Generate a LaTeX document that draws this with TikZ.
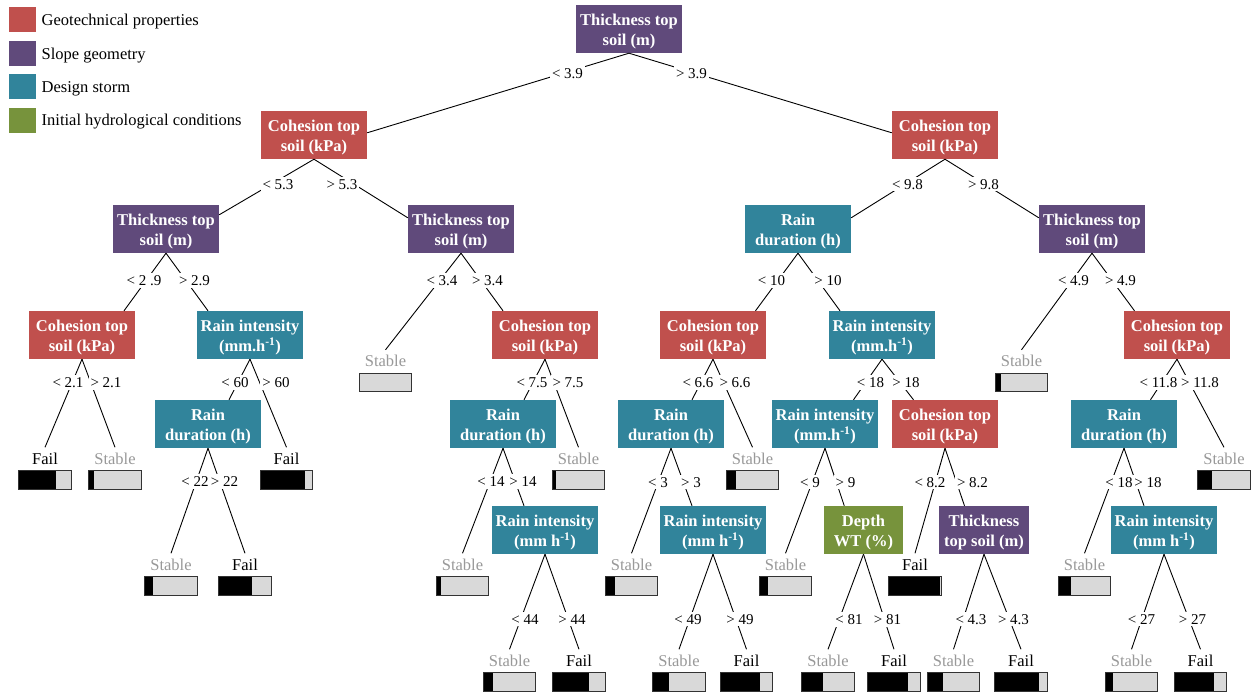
\documentclass[tikz,border=0pt]{standalone}
\usepackage{fontspec}
\setmainfont{Liberation Serif}
\usetikzlibrary{calc}
\definecolor{geo}{HTML}{C0504D}
\definecolor{slope}{HTML}{604A7B}
\definecolor{storm}{HTML}{31849B}
\definecolor{hydro}{HTML}{77933C}
\definecolor{barfill}{HTML}{D9D9D9}
\definecolor{stablegray}{HTML}{999999}
\tikzset{
  box/.style={rectangle, inner sep=0pt, minimum width=106pt, minimum height=48pt, align=center, text=white, font=\fontsize{16.5}{20}\selectfont\bfseries},
  geobox/.style={box, fill=geo},
  slopebox/.style={box, fill=slope},
  stormbox/.style={box, fill=storm},
  hydrobox/.style={box, fill=hydro},
  lbl/.style={fill=white, inner xsep=2pt, inner ysep=2pt, text height=10.5pt, text depth=0pt, font=\fontsize{15}{18}\selectfont},
  leaftxt/.style={inner sep=0pt, minimum height=22pt, text height=11.5pt, text depth=0pt, font=\fontsize{16.5}{20}\selectfont},
  stabletxt/.style={leaftxt, text=stablegray},
  failtxt/.style={leaftxt, text=black},
  barbox/.style={rectangle, inner sep=0pt, minimum width=52pt, minimum height=18pt, fill=barfill},
  barline/.style={draw=black!80, line width=1.2pt},
  conn/.style={line width=0.9pt, draw=black},
  legsq/.style={rectangle, inner sep=0pt, minimum width=27pt, minimum height=25pt},
  legtxt/.style={anchor=base west, inner sep=0pt, font=\fontsize{16.5}{20}\selectfont},
}
% strut that lowers the two-line box text a little
\newcommand\bx{\rule{0pt}{16.5pt}}
% name, x, y, text style, text, black width
\newcommand\mkleaf[6]{%
  \node[#4] (#1) at (#2,#3) {#5};
  \node[barbox] (#1b) at (#2,#3+21.5) {};
  \fill[black] (#1b.north west) rectangle ([xshift=#6pt]#1b.south west);
  \draw[barline] (#1b.north west) rectangle (#1b.south east);
}
% edge from parent to a box child, ending on its top at the x midway
\newcommand\cedge[2]{%
  \draw[conn] let \p1=(#1.south), \p2=(#2.north) in (\p1) -- ({(\x1+\x2)/2},\y2);
}
% edge from parent to a leaf
\newcommand\ledge[2]{%
  \draw[conn] (#1.south) -- (#2.north);
}
\begin{document}
\begin{tikzpicture}[x=1pt,y=-1pt]
\useasboundingbox (0,0) rectangle (1251,692);
\fill[white] (0,0) rectangle (1251,692);

% legend
\node[legsq, fill=geo] (lg1) at (22.5,19.5) {};
\node[legtxt] (lt1) at (41.5,26) {Geotechnical properties};
\node[legsq, fill=slope] (lg2) at (22.5,53.5) {};
\node[legtxt] (lt2) at (41.5,59.5) {Slope geometry};
\node[legsq, fill=storm] (lg3) at (22.5,86.5) {};
\node[legtxt] (lt3) at (41.5,93) {Design storm};
\node[legsq, fill=hydro] (lg4) at (22.5,120.5) {};
\node[legtxt] (lt4) at (41.5,126) {Initial hydrological conditions};

% decision nodes
\node[slopebox] (root) at (629,29) {\bx Thickness top\\soil (m)};
\node[geobox] (L1) at (314,135) {\bx Cohesion top\\soil (kPa)};
\node[geobox] (R1) at (945,135) {\bx Cohesion top\\soil (kPa)};
\node[slopebox] (A) at (166,229) {\bx Thickness top\\soil (m)};
\node[slopebox] (B) at (461,229) {\bx Thickness top\\soil (m)};
\node[stormbox] (C) at (798,229) {\bx Rain\\duration (h)};
\node[slopebox] (D) at (1092,229) {\bx Thickness top\\soil (m)};
\node[geobox] (A1) at (82,335) {\bx Cohesion top\\soil (kPa)};
\node[stormbox] (A2) at (250,335) {\bx Rain intensity\\(mm.h\textsuperscript{-1})};
\node[geobox] (B2) at (545,335) {\bx Cohesion top\\soil (kPa)};
\node[geobox] (C1) at (713,335) {\bx Cohesion top\\soil (kPa)};
\node[stormbox] (C2) at (882,335) {\bx Rain intensity\\(mm.h\textsuperscript{-1})};
\node[geobox] (D2) at (1177,335) {\bx Cohesion top\\soil (kPa)};
\node[stormbox] (A2a) at (208,424) {\bx Rain\\duration (h)};
\node[stormbox] (B2a) at (503,424) {\bx Rain\\duration (h)};
\node[stormbox] (C1a) at (671,424) {\bx Rain\\duration (h)};
\node[stormbox] (C2a) at (825,424) {\bx Rain intensity\\(mm.h\textsuperscript{-1})};
\node[geobox] (C2b) at (945,424) {\bx Cohesion top\\soil (kPa)};
\node[stormbox] (D2a) at (1124,424) {\bx Rain\\duration (h)};
\node[stormbox] (B2a2) at (545,530) {\bx Rain intensity\\(mm h\textsuperscript{-1})};
\node[stormbox] (C1a2) at (713,530) {\bx Rain intensity\\(mm h\textsuperscript{-1})};
\node[hydrobox, minimum width=79pt] (C2a2) at (863.5,530) {\bx Depth\\WT (\%)};
\node[slopebox, minimum width=90pt] (C2b2) at (984,530) {\bx Thickness\\top soil (m)};
\node[stormbox] (D2a2) at (1164,530) {\bx Rain intensity\\(mm h\textsuperscript{-1})};

% leaves
\mkleaf{A1a}{45}{458.5}{failtxt}{Fail}{37}
\mkleaf{A1b}{115}{458.5}{stabletxt}{Stable}{5}
\mkleaf{A2b}{286.5}{458.5}{failtxt}{Fail}{45}
\mkleaf{B1}{385.5}{361}{stabletxt}{Stable}{0}
\mkleaf{B2b}{578.5}{458.5}{stabletxt}{Stable}{4}
\mkleaf{C1b}{752.5}{458.5}{stabletxt}{Stable}{10}
\mkleaf{D1}{1021.5}{361}{stabletxt}{Stable}{6}
\mkleaf{D2b}{1224}{458.5}{stabletxt}{Stable}{14}
\mkleaf{A2aa}{171}{564.5}{stabletxt}{Stable}{8}
\mkleaf{A2ab}{245}{564.5}{failtxt}{Fail}{33}
\mkleaf{B2aa}{462.5}{564.5}{stabletxt}{Stable}{5}
\mkleaf{C1aa}{631.5}{564.5}{stabletxt}{Stable}{10}
\mkleaf{C2aa}{785.5}{564.5}{stabletxt}{Stable}{9}
\mkleaf{C2ba}{915}{564.5}{failtxt}{Fail}{51}
\mkleaf{D2aa}{1084.5}{564.5}{stabletxt}{Stable}{13}
\mkleaf{B2a2a}{509.5}{660.5}{stabletxt}{Stable}{10}
\mkleaf{B2a2b}{579}{660.5}{failtxt}{Fail}{36}
\mkleaf{C1a2a}{679}{660.5}{stabletxt}{Stable}{16}
\mkleaf{C1a2b}{746.5}{660.5}{failtxt}{Fail}{40}
\mkleaf{C2a2a}{828}{660.5}{stabletxt}{Stable}{21}
\mkleaf{C2a2b}{894}{660.5}{failtxt}{Fail}{40}
\mkleaf{C2b2a}{953.5}{660.5}{stabletxt}{Stable}{16}
\mkleaf{C2b2b}{1021}{660.5}{failtxt}{Fail}{44}
\mkleaf{D2a2a}{1131.5}{660.5}{stabletxt}{Stable}{8}
\mkleaf{D2a2b}{1200.5}{660.5}{failtxt}{Fail}{40}

% connectors
\draw[conn] (root.south) -- ([yshift=-22pt]L1.north east);
\draw[conn] (root.south) -- ([yshift=-22pt]R1.north west);
\draw[conn] (L1.south) -- ([yshift=-10pt]A.north east);
\draw[conn] (L1.south) -- ([yshift=-13pt]B.north west);
\draw[conn] (R1.south) -- ([yshift=-13pt]C.north east);
\draw[conn] (R1.south) -- ([yshift=-13pt]D.north west);
\cedge{A}{A1}
\cedge{A}{A2}
\ledge{B}{B1}
\cedge{B}{B2}
\cedge{C}{C1}
\cedge{C}{C2}
\ledge{D}{D1}
\cedge{D}{D2}
\ledge{A1}{A1a}
\ledge{A1}{A1b}
\cedge{A2}{A2a}
\ledge{A2}{A2b}
\cedge{B2}{B2a}
\ledge{B2}{B2b}
\cedge{C1}{C1a}
\ledge{C1}{C1b}
\cedge{C2}{C2a}
\cedge{C2}{C2b}
\cedge{D2}{D2a}
\ledge{D2}{D2b}
\ledge{A2a}{A2aa}
\ledge{A2a}{A2ab}
\ledge{B2a}{B2aa}
\cedge{B2a}{B2a2}
\ledge{C1a}{C1aa}
\cedge{C1a}{C1a2}
\ledge{C2a}{C2aa}
\cedge{C2a}{C2a2}
\ledge{C2b}{C2ba}
\cedge{C2b}{C2b2}
\ledge{D2a}{D2aa}
\cedge{D2a}{D2a2}
\ledge{B2a2}{B2a2a}
\ledge{B2a2}{B2a2b}
\ledge{C1a2}{C1a2a}
\ledge{C1a2}{C1a2b}
\ledge{C2a2}{C2a2a}
\ledge{C2a2}{C2a2b}
\ledge{C2b2}{C2b2a}
\ledge{C2b2}{C2b2b}
\ledge{D2a2}{D2a2a}
\ledge{D2a2}{D2a2b}

% split labels
\node[lbl] (t1) at (567.5,73) {< 3.9};
\node[lbl] (t2) at (691.5,73) {> 3.9};
\node[lbl] (t3) at (278,184) {< 5.3};
\node[lbl] (t4) at (342,184) {> 5.3};
\node[lbl] (t5) at (907.5,184) {< 9.8};
\node[lbl] (t6) at (983.5,184) {> 9.8};
\node[lbl] (t7) at (144,280.5) {< 2 .9};
\node[lbl] (t8) at (194.5,280.5) {> 2.9};
\node[lbl] (t9) at (442,280.5) {< 3.4};
\node[lbl] (t10) at (487.5,280.5) {> 3.4};
\node[lbl] (t11) at (771.5,280.5) {< 10};
\node[lbl] (t12) at (828,280.5) {> 10};
\node[lbl] (t13) at (1073.5,280.5) {< 4.9};
\node[lbl] (t14) at (1120.5,280.5) {> 4.9};
\node[lbl] (t15) at (68,382.5) {< 2.1};
\node[lbl] (t16) at (106,382.5) {> 2.1};
\node[lbl] (t17) at (235,382.5) {< 60};
\node[lbl] (t18) at (276,382.5) {> 60};
\node[lbl] (t19) at (532,382.5) {< 7.5};
\node[lbl] (t20) at (568,382.5) {> 7.5};
\node[lbl] (t21) at (698,382.5) {< 6.6};
\node[lbl] (t22) at (735,382.5) {> 6.6};
\node[lbl] (t23) at (870.5,382.5) {< 18};
\node[lbl] (t24) at (906,382.5) {> 18};
\node[lbl] (t25) at (1158.5,382.5) {< 11.8};
\node[lbl] (t26) at (1200,382.5) {> 11.8};
\node[lbl] (t27) at (195,481.5) {< 22};
\node[lbl] (t28) at (224.5,481.5) {> 22};
\node[lbl] (t29) at (491,481.5) {< 14};
\node[lbl] (t30) at (523,481.5) {> 14};
\node[lbl] (t31) at (658,482) {< 3};
\node[lbl] (t32) at (691,482) {> 3};
\node[lbl] (t33) at (810,482) {< 9};
\node[lbl] (t34) at (845.5,482) {> 9};
\node[lbl] (t35) at (930,482) {< 8.2};
\node[lbl] (t36) at (972.5,482) {> 8.2};
\node[lbl] (t37) at (1119,482) {< 18};
\node[lbl] (t38) at (1148,482) {> 18};
\node[lbl] (t39) at (525,619) {< 44};
\node[lbl] (t40) at (572,619) {> 44};
\node[lbl] (t41) at (688,619) {< 49};
\node[lbl] (t42) at (740,619) {> 49};
\node[lbl] (t43) at (849,619.5) {< 81};
\node[lbl] (t44) at (887.5,619.5) {> 81};
\node[lbl] (t45) at (971,619) {< 4.3};
\node[lbl] (t46) at (1013.5,619) {> 4.3};
\node[lbl] (t47) at (1141.5,619) {< 27};
\node[lbl] (t48) at (1192.5,619) {> 27};
\end{tikzpicture}
\end{document}
